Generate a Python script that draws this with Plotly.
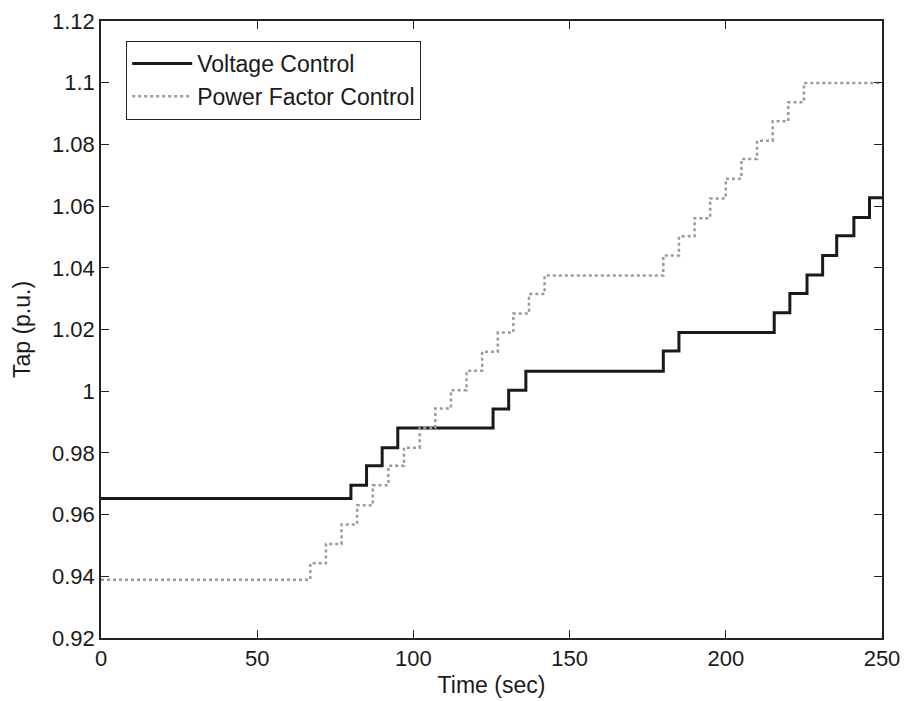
import plotly.graph_objects as go

# Voltage Control: step times (sec) and tap values (p.u.)
vc_time = [0, 80, 85, 90, 95, 125.5, 130.5, 136, 180, 185, 215.5, 220.5, 226, 231, 235.5, 241, 246, 250]
vc_tap = [0.9652, 0.9695, 0.9758, 0.9817, 0.9881, 0.9942, 1.0003, 1.0065, 1.0130, 1.0190,
          1.0254, 1.0317, 1.0377, 1.0440, 1.0504, 1.0563, 1.0627, 1.0627]

# Power Factor Control
pf_time = [0, 67, 72, 77, 82, 87, 92, 97, 102, 107, 112, 117, 122, 127, 132, 137, 142,
           180, 185, 190, 195, 200, 205, 210, 215, 220, 225, 250]
pf_tap = [0.9389, 0.9442, 0.9505, 0.9568, 0.9630, 0.9695, 0.9758, 0.9817, 0.9881, 0.9944,
          1.0003, 1.0066, 1.0128, 1.0190, 1.0252, 1.0315, 1.0375,
          1.0440, 1.0502, 1.0561, 1.0625, 1.0689, 1.0753, 1.0812, 1.0875, 1.0937, 1.0999, 1.0999]

x_ticks = [0, 50, 100, 150, 200, 250]
y_ticks = [0.92, 0.94, 0.96, 0.98, 1.0, 1.02, 1.04, 1.06, 1.08, 1.1, 1.12]
y_ticktext = ["0.92", "0.94", "0.96", "0.98", "1", "1.02", "1.04", "1.06", "1.08", "1.1", "1.12"]

FONT = "Liberation Sans, Arial, Helvetica, sans-serif"
FS_TICK = 22
FS_TEXT = 23

fig = go.Figure()
fig.add_trace(go.Scatter(x=vc_time, y=vc_tap, mode="lines", name="Voltage Control",
                         line=dict(color="#1a1a1a", width=3, shape="hv")))
fig.add_trace(go.Scatter(x=pf_time, y=pf_tap, mode="lines", name="Power Factor Control",
                         line=dict(color="#9a9a9a", width=2.5, shape="hv", dash="dot")))

axis_common = dict(showgrid=False, zeroline=False, showline=True, linecolor="#222222",
                   linewidth=1.5, mirror="ticks", ticks="inside", ticklen=8,
                   tickcolor="#222222", tickwidth=1.2, automargin=False,
                   tickfont=dict(family=FONT, size=FS_TICK, color="#1a1a1a"))

fig.update_layout(
    width=905, height=701,
    margin=dict(l=101, r=23, t=21, b=63),
    paper_bgcolor="white", plot_bgcolor="white",
    font=dict(family=FONT, color="#1a1a1a"),
    showlegend=True,
    legend=dict(x=0.032, y=0.968, xanchor="left", yanchor="top",
                bgcolor="white", bordercolor="#222222", borderwidth=1.2,
                font=dict(family=FONT, size=FS_TEXT, color="#1a1a1a"),
                itemwidth=60),
    xaxis=dict(range=[0, 250], tickvals=x_ticks,
               title=dict(text="Time (sec)", font=dict(family=FONT, size=FS_TEXT), standoff=7),
               **axis_common),
    yaxis=dict(range=[0.92, 1.12], tickvals=y_ticks, ticktext=y_ticktext,
               title=dict(text="Tap (p.u.)", font=dict(family=FONT, size=FS_TEXT), standoff=15),
               **axis_common),
)

fig.write_html("out.html")
